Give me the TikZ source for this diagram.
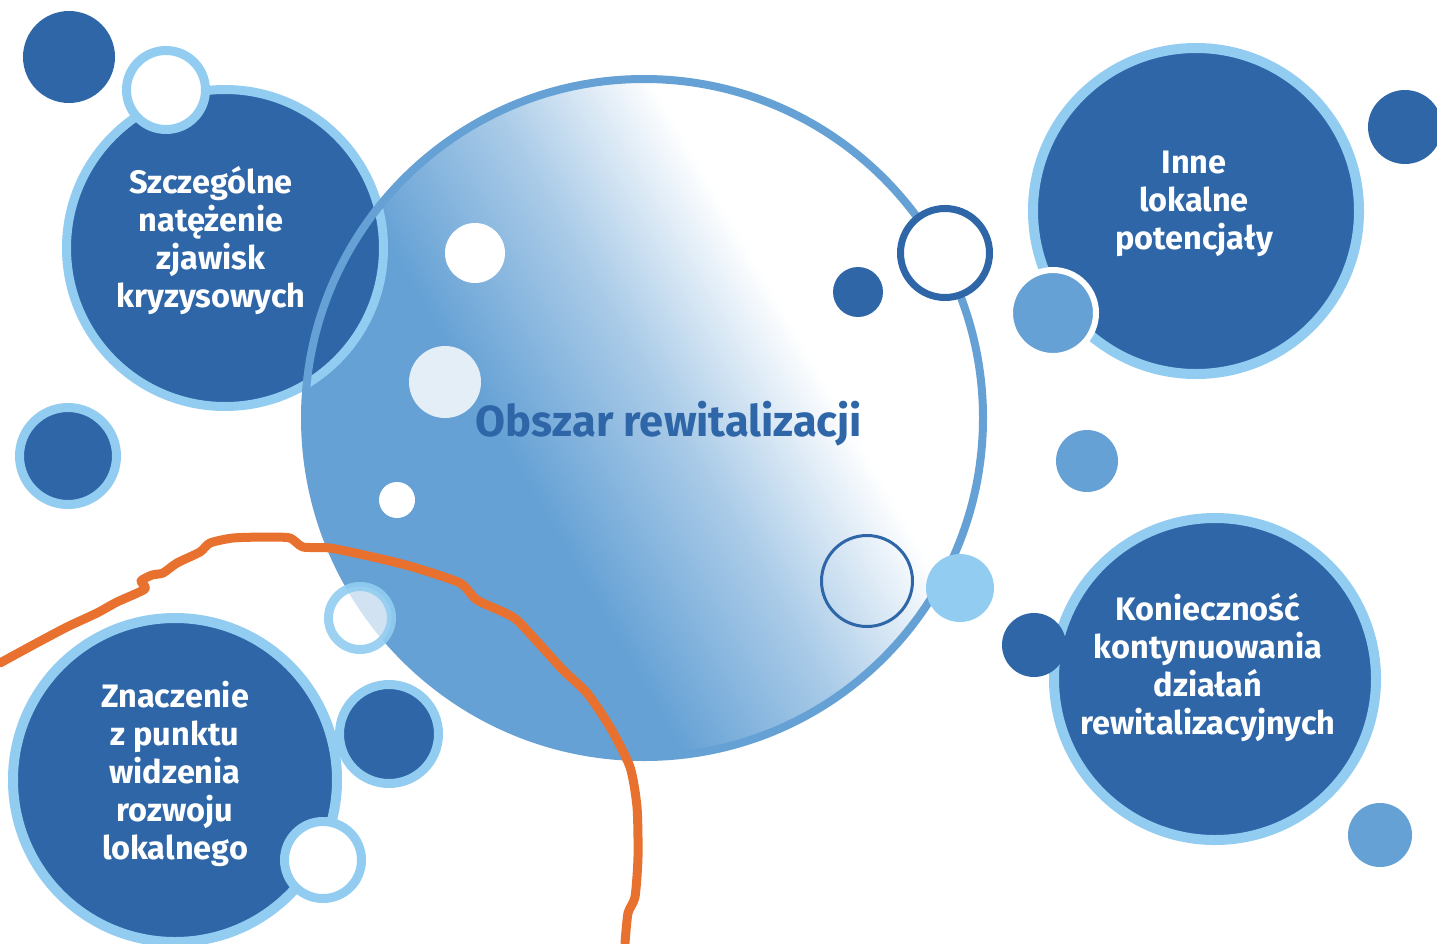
\documentclass[tikz,border=0pt]{standalone}
\usepackage{fontspec}
\setmainfont{Fira Sans}
\newfontfamily\labelfont{Fira Sans}
\definecolor{darkb}{RGB}{46,102,168}
\definecolor{lightb}{RGB}{146,205,241}
\definecolor{midb}{RGB}{101,161,213}
\definecolor{orangeline}{RGB}{232,113,47}
\pgfdeclarehorizontalshading{centralsh}{100bp}{color(0bp)=(midb); color(40bp)=(midb); color(52bp)=(midb!55!white); color(63bp)=(white); color(100bp)=(white)}
\tikzset{
  bubble/.style={circle, inner sep=0pt, outer sep=0pt},
  darkbub/.style={bubble, fill=darkb, draw=lightb},
  whitebub/.style={bubble, fill=white, draw=lightb},
  plaindark/.style={bubble, fill=darkb},
  plainmid/.style={bubble, fill=midb},
  labeltext/.style={text=white, align=center, inner sep=0pt, font=\labelfont\bfseries\fontsize{32.5}{38}\selectfont},
  maintext/.style={text=darkb, inner sep=0pt, font=\labelfont\bfseries\fontsize{43.5}{50}\selectfont},
  freehand/.style={draw=orangeline, line width=9pt, line join=round, line cap=round}
}
\begin{document}
\begin{tikzpicture}[x=1pt, y=-1pt]
\useasboundingbox (0,0) rectangle (1437,943);
\clip (0,0) rectangle (1437,943);
\fill[white] (0,0) rectangle (1437,943);

% top-left small dark
\node[plaindark, minimum size=92pt] (tlsmall) at (69,57) {};
% central shaded disc
\node[bubble, shading=centralsh, shading angle=30, minimum size=678pt] (central) at (644,418) {};
% top-left big circle
\node[darkbub, line width=9pt, minimum size=317pt] (tlbig) at (225,248) {};
% central rim
\draw[midb, line width=8pt] (central.center) circle[radius=339];
% top-left white ring
\node[whitebub, line width=9pt, minimum size=79pt] (tlwhite) at (166,90) {};
% left middle
\node[darkbub, line width=9pt, minimum size=97pt] (lmid) at (68,456) {};
% top-right big
\node[darkbub, line width=10pt, minimum size=326pt] (trbig) at (1196,211) {};
\node[bubble, fill=midb, draw=white, line width=6pt, minimum size=86pt] (trmed) at (1053,313) {};
\node[plaindark, minimum size=74pt] (trfar) at (1405,127) {};
% ring on rim
\node[bubble, fill=white, draw=darkb, line width=7pt, minimum size=89pt] (dring) at (945,253) {};
\node[plaindark, minimum size=50pt] (sdark) at (858,292) {};
\node[plainmid, minimum size=62pt] (rmed) at (1087,461) {};
% bottom-right
\node[darkbub, line width=10pt, minimum size=322pt] (brbig) at (1215,679) {};
\node[plaindark, minimum size=64pt] (brbump) at (1034,645) {};
\node[plainmid, minimum size=64pt] (brsmall) at (1380,835) {};
\node[bubble, fill=lightb, minimum size=68pt] (lightc) at (960,588) {};
\node[bubble, draw=darkb, line width=3pt, minimum size=91pt] (thinring) at (867,581) {};
% inside central
\node[bubble, fill=white, minimum size=60pt] (in1) at (475,253) {};
\node[bubble, fill=white, fill opacity=0.82, minimum size=72pt] (in2) at (445,382) {};
\node[bubble, fill=white, minimum size=36pt] (in3) at (397,500) {};
% bottom-left
\node[bubble, fill=white, fill opacity=0.7, draw=lightb, draw opacity=0.9, line width=9pt, minimum size=63pt] (blring) at (360,618) {};
\node[darkbub, line width=10pt, minimum size=324pt] (blbig) at (175,780) {};
\node[darkbub, line width=9pt, minimum size=99pt] (bldark) at (389,734) {};
\node[whitebub, line width=9pt, minimum size=77pt] (blwhite) at (323,860) {};

% texts
\node[labeltext] (t1) at (211,241) {Szczególne\\natężenie\\zjawisk\\kryzysowych};
\node[labeltext] (t2) at (1194,204) {Inne\\lokalne\\potencjały};
\node[labeltext] (t3) at (1208,668) {Konieczność\\kontynuowania\\działań\\rewitalizacyjnych};
\node[labeltext] (t4) at (175,774) {Znaczenie\\z punktu\\widzenia\\rozwoju\\lokalnego};
\node[maintext, anchor=base] (t0) at (669,436) {Obszar rewitalizacji};

% orange freehand stroke
\draw[freehand] plot[smooth, tension=0.4] coordinates {
 (0,663) (33,645) (67,627) (97,613) (117,602) (145,589) (141,581) (152,575) (163,573)
 (177,563) (200,552) (210,543) (233,538) (267,537) (290,538) (303,547) (330,548)
 (373,557) (413,567) (460,583) (477,600) (513,617) (533,637) (563,670) (587,693)
 (610,727) (630,767) (637,807) (638,857) (635,897) (628,913) (625,943)};
\end{tikzpicture}
\end{document}
